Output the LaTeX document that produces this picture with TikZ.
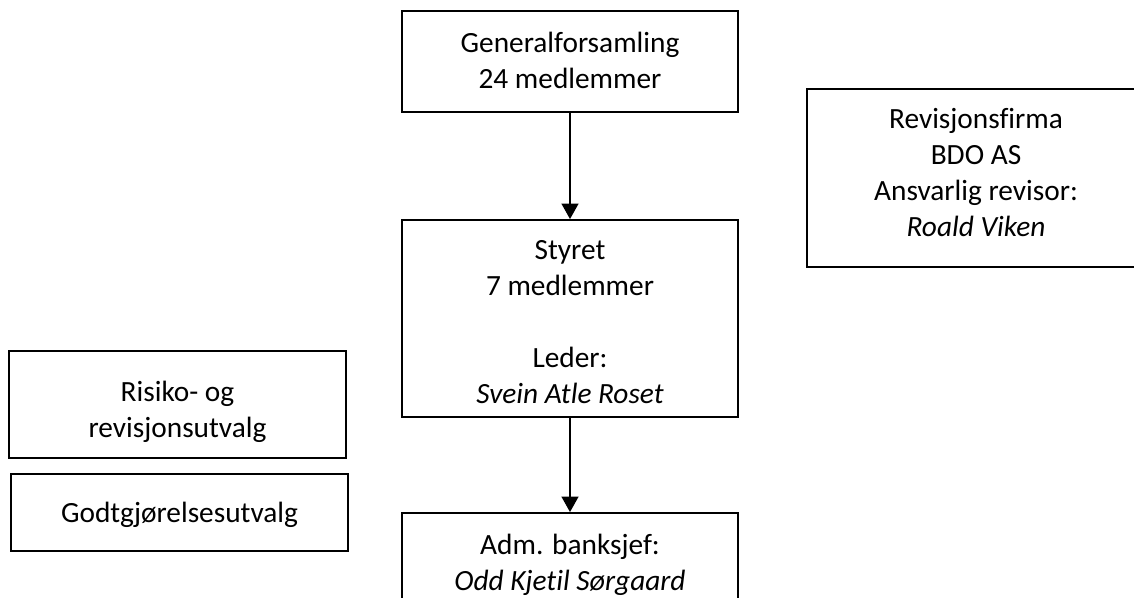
\documentclass[tikz,border=0pt]{standalone}
\usepackage{fontspec}
\setmainfont{Carlito}[Ligatures={NoCommon}]
\usetikzlibrary{arrows.meta}
\begin{document}
\begin{tikzpicture}[x=0.75pt,y=-0.75pt,
  box/.style={draw=black,line width=1.4pt,rectangle,inner sep=0pt},
  txt/.style={inner sep=0pt,align=center,anchor=north,
    font=\fontsize{22pt}{27pt}\selectfont},
  link/.style={line width=1.4pt,-{Triangle[width=12.5pt,length=11.5pt]}}]
\useasboundingbox (0,0) rectangle (1134,597);
\clip (0,0) rectangle (1134,597);
\fill[white] (0,0) rectangle (1134,597);
% boxes
\node[box,minimum width=252pt,minimum height=75.75pt] (gf) at (570,61.5) {};
\node[box,minimum width=252pt,minimum height=147.75pt] (styret) at (570,318.5) {};
\node[box,minimum width=252pt,minimum height=80.25pt] (adm) at (570,566.5) {};
\node[box,minimum width=253.5pt,minimum height=133.5pt] (rev) at (976,178) {};
\node[box,minimum width=252.75pt,minimum height=80.25pt] (risiko) at (177.5,404.5) {};
\node[box,minimum width=252.75pt,minimum height=57.75pt] (godt) at (179.5,512.5) {};
% texts
\node[txt] (gft) at (570,27.5) {\strut Generalforsamling\\\strut 24 medlemmer};
\node[txt] (styrett) at (570,234)
  {\strut Styret\\\strut 7 medlemmer\\\strut\\\strut Leder:\\\strut\textit{Svein Atle Roset}};
\node[txt] (admt) at (570,529.5) {\strut Adm. banksjef:\\\strut\textit{Odd Kjetil Sørgaard}};
\node[txt] (revt) at (976,103)
  {\strut Revisjonsfirma\\\strut BDO AS\\\strut Ansvarlig revisor:\\\strut\textit{Roald Viken}};
\node[txt] (risikot) at (177.5,376.5) {\strut Risiko- og\\\strut revisjonsutvalg};
\node[txt] (godtt) at (179.5,497) {\strut Godtgjørelsesutvalg};
% connectors
\draw[link] (gf.south) -- (styret.north);
\draw[link] (styret.south) -- (adm.north);
\end{tikzpicture}
\end{document}
